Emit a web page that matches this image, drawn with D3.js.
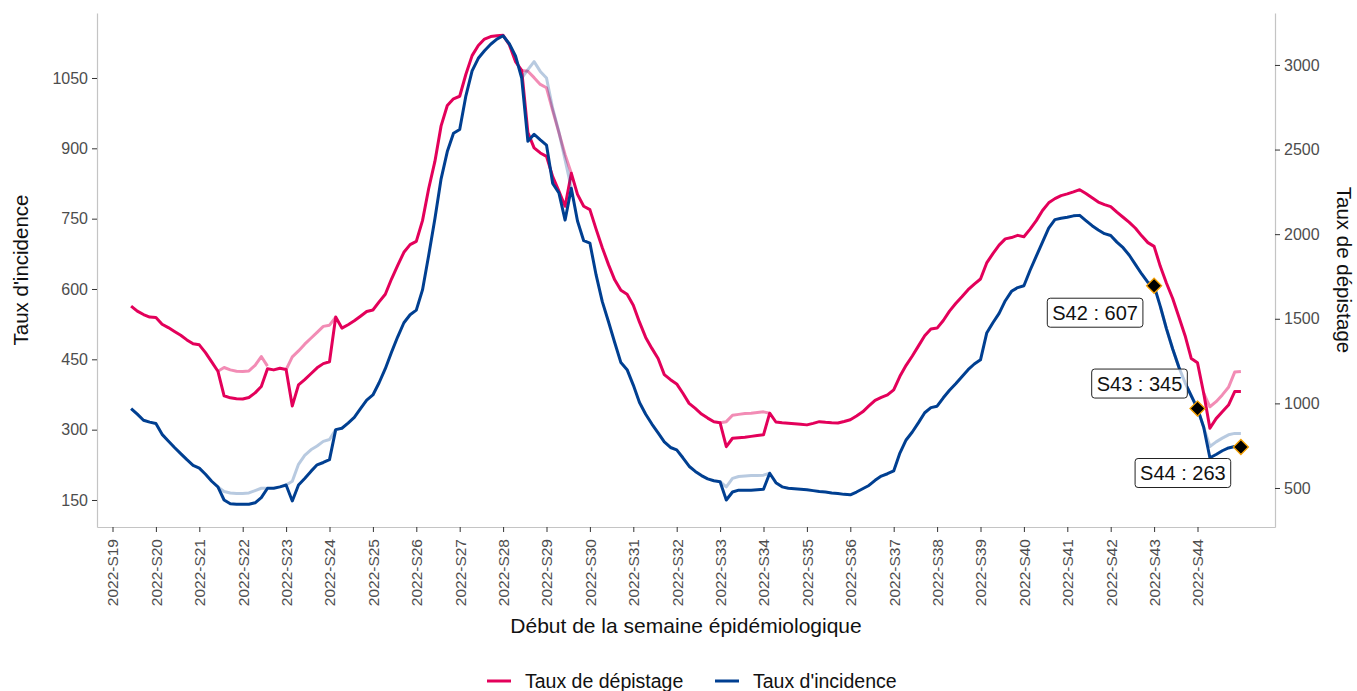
<!DOCTYPE html>
<html>
<head>
<meta charset="utf-8">
<script src="https://cdn.jsdelivr.net/npm/d3@7"></script>
<style>
  html, body { margin: 0; padding: 0; background: #fff; }
  svg { display: block; font-family: "Liberation Sans", Arial, sans-serif; }
</style>
</head>
<body>
<svg id="chart" width="1357" height="691"></svg>
<script>
// ---------------- DATA ----------------
const weekLabels = ["2022-S19","2022-S20","2022-S21","2022-S22","2022-S23","2022-S24","2022-S25","2022-S26",
  "2022-S27","2022-S28","2022-S29","2022-S30","2022-S31","2022-S32","2022-S33","2022-S34","2022-S35",
  "2022-S36","2022-S37","2022-S38","2022-S39","2022-S40","2022-S41","2022-S42","2022-S43","2022-S44"];

// daily values, first value = day 3 after the start of 2022-S19
const firstDay = 3;

// Taux d'incidence (left axis)
const incidence = [345,333,320,316,313,290,276,262,249,236,
  224,218,205,190,178,150,142,141,141,141,
  144,155,175,175,178,182,148,182,196,211,
  225,230,236,300,303,314,326,345,363,374,
  400,430,465,498,528,545,555,598,672,750,
  835,893,932,940,1012,1065,1092,1108,1122,1133,
  1140,1123,1097,1050,915,930,918,907,825,805,
  747,815,745,703,698,630,573,530,486,443,
  428,395,358,333,312,293,274,262,257,240,
  222,211,202,195,191,189,150,167,171,171,
  171,172,173,207,187,178,175,174,173,172,
  170,168,167,165,164,162,161,167,174,181,
  192,201,206,212,250,278,295,315,336,347,
  350,368,384,398,413,428,440,449,506,528,
  548,575,595,603,607,640,670,700,730,748,
  751,753,756,757,746,735,726,718,714,700,
  688,672,652,632,614,607,563,515,472,433,
  400,372,345,305,240,247,255,261,264,263];

// Taux de dépistage (right axis)
const depistage = [1575,1545,1525,1510,1508,1468,1448,1425,1403,1375,
  1352,1346,1300,1245,1190,1045,1033,1028,1026,1035,
  1062,1100,1205,1198,1208,1200,985,1109,1140,1175,
  1210,1235,1246,1510,1445,1465,1488,1515,1543,1552,
  1600,1645,1735,1815,1893,1938,1957,2080,2270,2430,
  2640,2760,2800,2815,2945,3055,3115,3153,3168,3173,
  3175,3120,3020,2968,2600,2510,2480,2460,2340,2255,
  2165,2360,2235,2165,2145,2030,1920,1820,1730,1668,
  1645,1580,1480,1390,1325,1265,1170,1140,1115,1060,
  1000,970,937,913,891,885,744,794,797,800,
  805,810,814,942,890,885,882,879,876,873,
  882,892,888,885,884,893,903,925,950,985,
  1018,1035,1050,1080,1160,1225,1280,1340,1400,1440,
  1445,1490,1545,1590,1630,1672,1705,1735,1830,1885,
  1935,1972,1980,1993,1985,2030,2080,2140,2185,2210,
  2228,2238,2250,2263,2240,2215,2190,2175,2163,2130,
  2100,2070,2035,1990,1950,1928,1810,1710,1620,1510,
  1400,1265,1240,1060,853,910,950,990,1070,1070];

// earlier versions of the series (light lines), where they differ
const depistagePrevStarts = [17, 28, 66, 98, 176];
const depistagePrevValues = [
  [1190,1212,1198,1190,1188,1192,1225,1277,1220],
  [1200,1275,1310,1350,1385,1420,1455,1462,1510],
  [2968,2963,2925,2885,2865,2730,2600,2470,2360],
  [885,892,930,935,940,942,946,950,942],
  [1060,980,1010,1050,1095,1185,1188]
];
const incidencePrevStarts = [17, 28, 66, 98, 169];
const incidencePrevValues = [
  [178,168,165,164,164,165,170,175,175],
  [182,190,226,245,257,265,275,279,300],
  [1050,1068,1085,1064,1050,985,935,875,815],
  [189,178,196,200,201,202,202,203,207],
  [563,515,472,433,400,372,345,305,264,274,282,289,292,292]
];

// annotated weekly values of incidence
const annotWeeks = ["S42","S43","S44"];
const annotDays = [168, 175, 182];
const annotValues = [607, 345, 263];

const leftTicks = [150,300,450,600,750,900,1050];
const rightTicks = [500,1000,1500,2000,2500,3000];

// ---------------- LAYOUT ----------------
const colRed = "#e3005a", colBlue = "#003f91";
const svg = d3.select("#chart");
const L = 97, R = 1275, T = 13, B = 527;

const x = d3.scaleLinear().domain([-2.5, 187.5]).range([L, R]);
const yL = d3.scaleLinear().domain([92.4, 1188.6]).range([B, T]);
const yR = d3.scaleLinear().domain([269.5, 3307]).range([B, T]);

const tickColor = "#333", labelColor = "#4d4d4d", axisLineColor = "#c4c4c4";
const fmt = d => String(d);

// Left axis
const gL = svg.append("g").attr("transform", `translate(${L},0)`)
  .call(d3.axisLeft(yL).tickValues(leftTicks).tickFormat(fmt).tickSize(5).tickSizeOuter(0).tickPadding(4));
// Right axis
const gR = svg.append("g").attr("transform", `translate(${R},0)`)
  .call(d3.axisRight(yR).tickValues(rightTicks).tickFormat(fmt).tickSize(5).tickSizeOuter(0).tickPadding(4));
// Bottom axis
const weekDays = weekLabels.map((d, i) => i * 7);
const gB = svg.append("g").attr("transform", `translate(0,${B})`)
  .call(d3.axisBottom(x).tickValues(weekDays).tickFormat((d, i) => weekLabels[i]).tickSize(5).tickSizeOuter(0));

[gL, gR, gB].forEach(g => {
  g.select(".domain").attr("stroke", axisLineColor).attr("stroke-width", 1.2);
  g.selectAll(".tick line").attr("stroke", tickColor).attr("stroke-width", 1);
  g.selectAll(".tick text").attr("fill", labelColor).style("font-size", "16px")
    .style("font-family", "'Liberation Sans', Arial, sans-serif");
});
gB.selectAll(".tick text")
  .style("font-size", "15.5px")
  .attr("transform", "rotate(-90)")
  .attr("x", -12).attr("y", 0).attr("dy", "0.35em")
  .style("text-anchor", "end");

// Axis titles
svg.append("text").attr("transform", "translate(28,270) rotate(-90)")
  .attr("text-anchor", "middle").style("font-size", "20.5px").attr("fill", "#111")
  .text("Taux d'incidence");
svg.append("text").attr("transform", "translate(1337,270) rotate(90)")
  .attr("text-anchor", "middle").style("font-size", "20.5px").attr("fill", "#111")
  .text("Taux de dépistage");
svg.append("text").attr("x", 686).attr("y", 633)
  .attr("text-anchor", "middle").style("font-size", "21px").attr("fill", "#111")
  .text("Début de la semaine épidémiologique");

// ---------------- LINES ----------------
const lineL = d3.line().x(d => x(d.day)).y(d => yL(d.v));
const lineR = d3.line().x(d => x(d.day)).y(d => yR(d.v));
const toPts = (arr, start) => arr.map((v, i) => ({ day: start + i, v }));

svg.append("path").datum(toPts(depistage, firstDay)).attr("d", lineR)
  .attr("fill", "none").attr("stroke", colRed).attr("stroke-width", 3).attr("stroke-linejoin", "round");
svg.append("path").datum(toPts(incidence, firstDay)).attr("d", lineL)
  .attr("fill", "none").attr("stroke", colBlue).attr("stroke-width", 3).attr("stroke-linejoin", "round");

// ---------------- LABELS ----------------
const labelOffsets = [[-59, 27], [-58, -25], [-58, 26]];
annotWeeks.forEach((w, i) => {
  const px = x(annotDays[i]), py = yL(annotValues[i]);
  const cx = px + labelOffsets[i][0], cy = py + labelOffsets[i][1];
  const g = svg.append("g");
  const t = g.append("text").attr("x", cx).attr("y", cy).attr("dy", "0.35em")
    .attr("text-anchor", "middle").style("font-size", "20px").attr("fill", "#111")
    .text(`${w} : ${annotValues[i]}`);
  const bb = t.node().getBBox();
  g.insert("rect", "text").attr("x", bb.x - 5).attr("y", cy - 14.5).attr("width", bb.width + 10).attr("height", 29)
    .attr("rx", 3).attr("fill", "#fff").attr("stroke", "#222").attr("stroke-width", 1);
});

// light (previous) lines on top
depistagePrevStarts.forEach((s, i) => {
  svg.append("path").datum(toPts(depistagePrevValues[i], s)).attr("d", lineR)
    .attr("fill", "none").attr("stroke", colRed).attr("stroke-opacity", 0.45).attr("stroke-width", 3)
    .attr("stroke-linejoin", "round");
});
incidencePrevStarts.forEach((s, i) => {
  svg.append("path").datum(toPts(incidencePrevValues[i], s)).attr("d", lineL)
    .attr("fill", "none").attr("stroke", colBlue).attr("stroke-opacity", 0.28).attr("stroke-width", 3)
    .attr("stroke-linejoin", "round");
});

// diamonds
svg.selectAll(".diam").data(annotDays).enter().append("path")
  .attr("transform", (d, i) => `translate(${x(d)},${yL(annotValues[i])})`)
  .attr("d", "M0,-7.5L7.5,0L0,7.5L-7.5,0Z")
  .attr("fill", "#000").attr("stroke", "#f5a000").attr("stroke-width", 1.3);

// ---------------- LEGEND ----------------
const legendItems = ["Taux de dépistage", "Taux d'incidence"];
const legendColors = [colRed, colBlue];
const legendX = [487, 715];
legendItems.forEach((name, i) => {
  svg.append("line").attr("x1", legendX[i]).attr("x2", legendX[i] + 24).attr("y1", 681).attr("y2", 681)
    .attr("stroke", legendColors[i]).attr("stroke-width", 3);
  svg.append("text").attr("x", legendX[i] + 38).attr("y", 681).attr("dy", "0.35em")
    .style("font-size", "19.5px").attr("fill", "#111").text(name);
});
</script>
</body>
</html>
